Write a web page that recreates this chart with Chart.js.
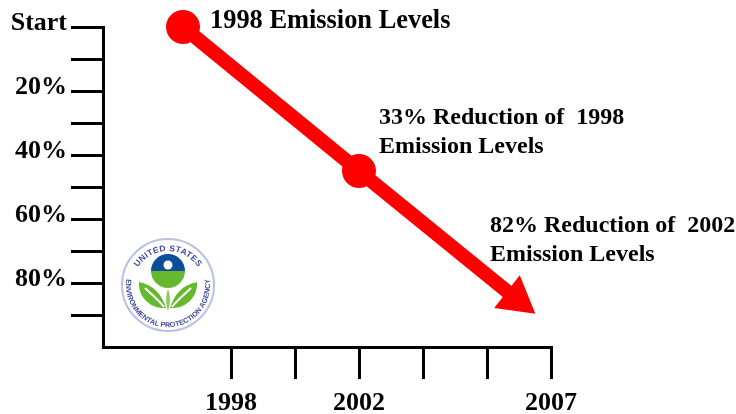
<!DOCTYPE html>
<html>
<head>
<meta charset="utf-8">
<title>Emission Levels</title>
<script src="https://cdn.jsdelivr.net/npm/chart.js@4"></script>
<style>
    html, body { margin: 0; padding: 0; background: #fff; }
    #wrap { position: relative; width: 736px; height: 414px; overflow: hidden; }
    #seal { position: absolute; left: 118px; top: 235px; }
</style>
</head>
<body>
<div id="wrap">
    <canvas id="emissionChart" width="736" height="414"></canvas>
    <svg id="seal" width="100" height="100" viewBox="0 0 100 100">
        <defs>
            <path id="sealTop" d="M 14 52 A 36 36 0 0 1 86 52"></path>
            <path id="sealBottom" d="M 12 32.3 A 42 42 0 1 0 88 32.3"></path>
            <filter id="soft"><feGaussianBlur stdDeviation="0.35"></feGaussianBlur></filter>
        </defs>
        <g filter="url(#soft)">
            <circle cx="50" cy="50" r="46" fill="#fff" stroke="#b9c0e6" stroke-width="2"></circle>
            <text font-family="Liberation Sans" font-size="8.5" font-weight="bold" fill="#3f4a9c" letter-spacing="0.4">
                <textPath href="#sealTop" startOffset="50%" text-anchor="middle">UNITED STATES</textPath>
            </text>
            <text font-family="Liberation Sans" font-size="7.2" font-weight="bold" fill="#3f4a9c">
                <textPath href="#sealBottom" startOffset="50%" text-anchor="middle">ENVIRONMENTAL PROTECTION AGENCY</textPath>
            </text>
            <path d="M 33 36 A 17 17 0 0 1 67 36 Z" fill="#0a4d9c"></path>
            <path d="M 33 36 A 17 17 0 0 0 67 36 Z" fill="#66b82e"></path>
            <circle cx="50" cy="30" r="4.5" fill="#fff"></circle>
            <path d="M 48 73 C 44 60 36 50 21 47 C 20 62 32 74 48 73 Z" fill="#66b82e"></path>
            <path d="M 52 73 C 56 60 64 50 79 47 C 80 62 68 74 52 73 Z" fill="#66b82e"></path>
            <path d="M 27 53 C 33 59 41 65 46 72" fill="none" stroke="#fff" stroke-width="2"></path>
            <path d="M 73 53 C 67 59 59 65 54 72" fill="none" stroke="#fff" stroke-width="2"></path>
            <path d="M 50 54 C 47 62 48 70 50 76 C 52 70 53 62 50 54 Z" fill="#8ccb5e"></path>
        </g>
    </svg>
</div>
<script>
// x axis runs over tick slots, the years are not evenly spaced in the original
const xTickLabels = ['', '', '1998', '', '2002', '', '', '2007'];
const yTickLabels = ['Start', '', '20%', '', '40%', '', '60%', '', '80%', '', ''];

// reduction line: start, midpoint, arrow head
const lineX = [1.25, 4, 6.46];
const lineY = [0, 45, 85];

const noteLines = [
    '1998 Emission Levels',
    '33% Reduction of  1998',
    'Emission Levels',
    '82% Reduction of  2002',
    'Emission Levels'
];

const serif = '"Liberation Serif", "Times New Roman", serif';

// text next to the line
const notesPlugin = {
    id: 'notes',
    afterDatasetsDraw(chart) {
        const ctx = chart.ctx;
        ctx.save();
        ctx.fillStyle = '#000';
        ctx.textBaseline = 'alphabetic';
        ctx.font = 'bold 26.4px ' + serif;
        ctx.fillText(noteLines[0], 210, 28);
        ctx.font = 'bold 24px ' + serif;
        ctx.fillText(noteLines[1], 379, 124);
        ctx.fillText(noteLines[2], 379, 153);
        ctx.fillText(noteLines[3], 490, 232);
        ctx.fillText(noteLines[4], 490, 261);
        ctx.restore();
    }
};

new Chart(document.getElementById('emissionChart'), {
    type: 'scatter',
    data: {
        datasets: [{
            data: lineX.map((x, i) => ({ x: x, y: lineY[i] })),
            showLine: true,
            borderColor: '#ff0000',
            backgroundColor: '#ff0000',
            borderWidth: 14,
            clip: false,
            pointRadius: [17, 17, 24],
            pointBorderWidth: 0,
            pointStyle: ['circle', 'circle', 'triangle'],
            pointRotation: [0, 0, 128]
        }]
    },
    plugins: [notesPlugin],
    options: {
        responsive: false,
        animation: false,
        layout: { padding: { top: 27, right: 185 } },
        plugins: {
            legend: { display: false },
            tooltip: { enabled: false }
        },
        scales: {
            x: {
                type: 'linear',
                min: 0,
                max: 7,
                afterFit(scale) { scale.height = 67; },
                afterBuildTicks(scale) {
                    scale.ticks = xTickLabels.map((_, i) => ({ value: i }));
                },
                border: { color: '#000', width: 3 },
                grid: {
                    drawOnChartArea: false,
                    color: (c) => c.index < 2 ? 'transparent' : '#000',
                    lineWidth: 3,
                    tickLength: 32
                },
                ticks: {
                    autoSkip: false,
                    maxRotation: 0,
                    padding: 9,
                    color: '#000',
                    font: { family: serif, size: 26, weight: 'bold' },
                    callback: (v) => xTickLabels[v]
                }
            },
            y: {
                type: 'linear',
                reverse: true,
                min: 0,
                max: 100,
                afterFit(scale) { scale.width = 103; },
                afterBuildTicks(scale) {
                    scale.ticks = yTickLabels.map((_, i) => ({ value: i * 10 }));
                },
                border: { color: '#000', width: 3 },
                grid: {
                    drawOnChartArea: false,
                    color: (c) => c.index === 10 ? 'transparent' : '#000',
                    lineWidth: 3,
                    tickLength: 32
                },
                ticks: {
                    autoSkip: false,
                    padding: 4,
                    color: '#000',
                    // empty second line lifts the label a little above its tick
                    font: { family: serif, size: 26, weight: 'bold', lineHeight: '8px' },
                    callback: (v) => [yTickLabels[v / 10], '']
                }
            }
        }
    }
});
</script>
</body>
</html>
